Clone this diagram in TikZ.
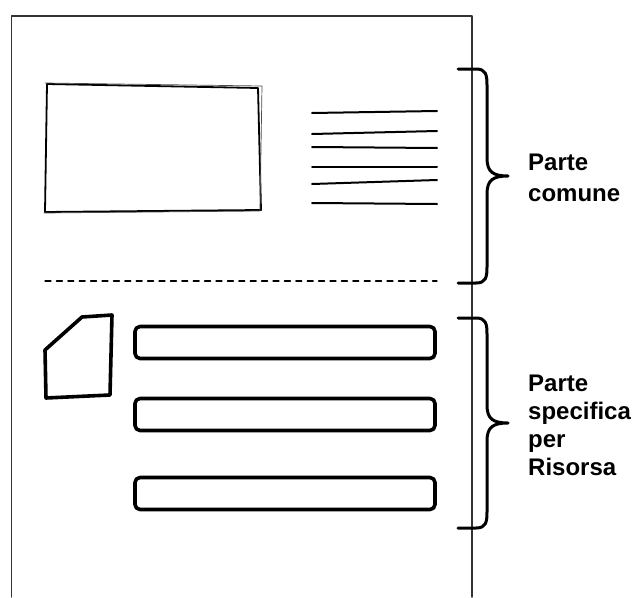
\documentclass[tikz,border=0pt]{standalone}
\usepackage{fontspec}
\setmainfont{Liberation Sans}

\begin{document}
\begin{tikzpicture}[x=1pt,y=-1pt,line join=round,line cap=round,
    page/.style={line width=1.4pt,black!80},
    sketch/.style={line width=1.8pt},
    textline/.style={line width=2pt},
    bar/.style={draw,line width=3.6pt,rounded corners=5pt,minimum width=300pt,minimum height=32pt,inner sep=0pt},
    curly/.style={line width=3pt},
    label/.style={anchor=base west,align=left,inner sep=0pt,font=\bfseries\fontsize{24}{28}\selectfont}]
    \def\xbar{285}
    \def\xend{458}
    \def\xbody{487}
    \def\xtip{508}

    \useasboundingbox (0,0) rectangle (637,597);
    \draw[page] (11.5,597) -- (11.5,16) -- (472,16) -- (472,597);

    \draw[sketch] (47,84) -- (258,88) -- (261,210) -- (45,212) -- cycle;
    \draw[line width=0.7pt,black!70] (45,83) -- (262,86) -- (260,211) -- (44,213);
    \foreach \ya/\yb in {113/111,134/131,147/148,167/167,184/180,203/204}
        \draw[textline] (312,\ya) -- (437,\yb);
    \draw[line width=1.1pt,dash pattern=on 6pt off 5.4pt] (45,281) -- (437,281);

    \draw[line width=3.6pt] (45,350) -- (82,317) -- (112,315) -- (110,395) -- (46,398) -- cycle;
    \node[bar] (bar1) at (\xbar,342.5) {};
    \node[bar] (bar2) at (\xbar,414.5) {};
    \node[bar] (bar3) at (\xbar,493.5) {};

    \foreach \ya/\ym/\yb/\part in {69/176/283/com,318/423/528/spe}{
        \coordinate (\part Top) at (\xend,\ya);
        \coordinate (\part Tip) at (\xtip,\ym);
        \coordinate (\part Bot) at (\xend,\yb);
        \draw[curly] (\part Top) -- (\xend+18,\ya) .. controls (\xbody-1,\ya) and (\xbody,\ya+6) .. (\xbody,\ya+16)
            -- (\xbody,\ym-18) .. controls (\xbody,\ym-4) and (\xbody+6,\ym) .. (\part Tip)
            .. controls (\xbody+6,\ym) and (\xbody,\ym+4) .. (\xbody,\ym+18)
            -- (\xbody,\yb-16) .. controls (\xbody,\yb-6) and (\xbody-1,\yb) .. (\xend+18,\yb) -- (\part Bot);
    }
    \node[label,font=\bfseries\fontsize{24}{31}\selectfont] (comune) at (528,201) {Parte\\comune};
    \node[label] (specifica) at (528,475) {Parte\\specifica\\per\\Risorsa};
\end{tikzpicture}
\end{document}
